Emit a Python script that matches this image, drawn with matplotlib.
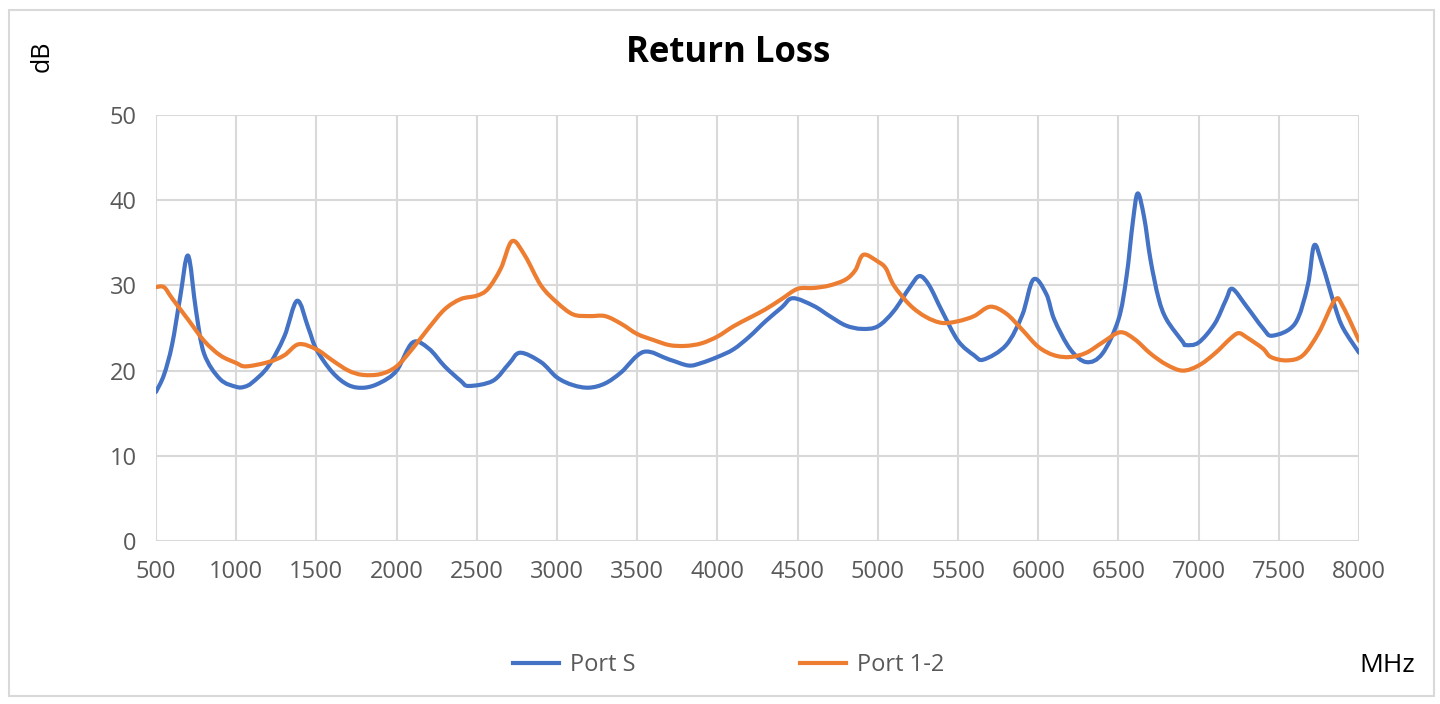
import matplotlib.pyplot as plt
from matplotlib.patches import Rectangle, PathPatch
from matplotlib.path import Path
from matplotlib.lines import Line2D

plt.rcParams['font.family'] = ['Open Sans', 'DejaVu Sans']

# frequency (MHz) and return loss (dB)
port_s_mhz = [500, 550, 600, 650, 700, 750, 800, 900, 1000, 1050, 1100, 1200, 1300, 1380,
              1450, 1500, 1600, 1700, 1800, 1900, 2000, 2100, 2200, 2300, 2400, 2450,
              2600, 2700, 2770, 2900, 3000, 3100, 3200, 3300, 3400, 3540, 3700, 3820,
              3900, 4000, 4100, 4200, 4300, 4400, 4470, 4600, 4700, 4800, 4900, 5000,
              5100, 5200, 5260, 5320, 5400, 5500, 5600, 5660, 5800, 5900, 5970, 6050,
              6100, 6200, 6300, 6400, 6500, 6550, 6590, 6620, 6660, 6700, 6750, 6800,
              6900, 6920, 7000, 7100, 7170, 7210, 7300, 7400, 7460, 7600, 7680, 7720,
              7770, 7850, 7900, 8000]
port_s_db = [17.5, 19.5, 23.0, 28.5, 33.5, 27.0, 22.0, 19.0, 18.1, 18.1, 18.6, 20.5, 24.0, 28.2,
             25.0, 22.5, 19.8, 18.3, 18.0, 18.6, 20.0, 23.3, 22.6, 20.5, 18.8, 18.2,
             18.8, 20.8, 22.1, 21.0, 19.2, 18.3, 18.0, 18.5, 19.8, 22.2, 21.3, 20.6,
             20.9, 21.6, 22.5, 24.0, 25.8, 27.4, 28.5, 27.6, 26.4, 25.3, 24.9, 25.2,
             27.0, 29.8, 31.1, 30.0, 27.0, 23.5, 21.8, 21.3, 23.0, 26.5, 30.7, 29.0,
             26.0, 22.5, 21.0, 22.0, 26.0, 31.0, 37.5, 40.8, 38.0, 33.0, 28.5, 26.0,
             23.4, 23.0, 23.3, 25.5, 28.3, 29.6, 27.5, 25.0, 24.1, 25.5, 30.0, 34.7,
             32.5, 27.5, 25.0, 22.1]

port12_mhz = [500, 550, 600, 700, 800, 900, 1000, 1060, 1200, 1300, 1390, 1500, 1600, 1700,
              1790, 1900, 2000, 2100, 2200, 2300, 2400, 2500, 2570, 2650, 2720, 2800,
              2900, 3000, 3100, 3200, 3300, 3400, 3500, 3600, 3700, 3800, 3900, 4000,
              4100, 4200, 4300, 4400, 4500, 4600, 4700, 4800, 4860, 4910, 5000, 5050,
              5100, 5200, 5300, 5400, 5500, 5600, 5700, 5800, 5900, 6000, 6100, 6200,
              6300, 6400, 6510, 6600, 6700, 6800, 6900, 7000, 7100, 7200, 7250, 7300,
              7400, 7450, 7550, 7650, 7750, 7850, 7900, 8000]
port12_db = [29.8, 29.8, 28.5, 26.0, 23.5, 21.8, 20.9, 20.5, 21.0, 21.8, 23.1, 22.5, 21.2, 20.0,
             19.5, 19.6, 20.5, 22.6, 25.0, 27.2, 28.4, 28.8, 29.6, 32.0, 35.2, 33.5,
             30.0, 28.0, 26.6, 26.4, 26.4, 25.5, 24.3, 23.6, 23.0, 22.9, 23.2, 24.0,
             25.2, 26.2, 27.2, 28.4, 29.6, 29.7, 30.0, 30.7, 31.8, 33.6, 32.8, 32.0,
             30.0, 27.7, 26.3, 25.6, 25.8, 26.4, 27.5, 26.7, 24.8, 22.8, 21.8, 21.6,
             22.1, 23.3, 24.5, 23.7, 22.0, 20.7, 20.0, 20.6, 22.0, 23.8, 24.4, 23.9,
             22.6, 21.6, 21.2, 21.8, 24.5, 28.3, 27.5, 23.5]

x_ticks = [500, 1000, 1500, 2000, 2500, 3000, 3500, 4000, 4500, 5000, 5500, 6000, 6500,
           7000, 7500, 8000]
y_ticks = [0, 10, 20, 30, 40, 50]

BLUE = '#4472C4'
ORANGE = '#ED7D31'


def smooth_path(xs, ys):
    # Excel-style smoothed line: Catmull-Rom segments drawn as cubic Beziers
    verts = [(xs[0], ys[0])]
    codes = [Path.MOVETO]
    n = len(xs)
    for i in range(n - 1):
        x0, y0 = (xs[i - 1], ys[i - 1]) if i > 0 else (xs[i], ys[i])
        x1, y1 = xs[i], ys[i]
        x2, y2 = xs[i + 1], ys[i + 1]
        x3, y3 = (xs[i + 2], ys[i + 2]) if i + 2 < n else (x2, y2)
        c1 = (x1 + (x2 - x0) / 6, y1 + (y2 - y0) / 6)
        c2 = (x2 - (x3 - x1) / 6, y2 - (y3 - y1) / 6)
        verts += [c1, c2, (x2, y2)]
        codes += [Path.CURVE4] * 3
    return Path(verts, codes)


fig = plt.figure(figsize=(14.4, 7.04), dpi=100)
fig.patches.append(Rectangle((0.006, 0.012), 0.99, 0.974, transform=fig.transFigure,
                             fill=False, edgecolor='#d9d9d9', linewidth=1.5))
ax = fig.add_axes([0.1083, 0.2315, 0.8355, 0.6051])

ax.add_patch(PathPatch(smooth_path(port_s_mhz, port_s_db), fill=False, edgecolor=BLUE,
                       lw=3, capstyle='round', joinstyle='round'))
ax.add_patch(PathPatch(smooth_path(port12_mhz, port12_db), fill=False, edgecolor=ORANGE,
                       lw=3, capstyle='round', joinstyle='round'))

ax.set_xlim(500, 8000)
ax.set_ylim(0, 50)
ax.set_xticks(x_ticks)
ax.set_yticks(y_ticks)
ax.grid(True, color='#d9d9d9', lw=1.5)
ax.set_axisbelow(True)
for s in ax.spines.values():
    s.set_visible(False)
ax.tick_params(length=0, labelsize=17, labelcolor='#595959', pad=14)

fig.text(0.506, 0.925, 'Return Loss', ha='center', va='center', fontsize=25, fontweight='bold')
fig.text(0.029, 0.92, 'dB', rotation=90, ha='center', va='center', fontsize=18)
fig.text(0.963, 0.055, 'MHz', ha='center', va='center', fontsize=19)

handles = [Line2D([], [], color=BLUE, lw=3), Line2D([], [], color=ORANGE, lw=3)]
fig.legend(handles, ['Port S', 'Port 1-2'], loc='center', bbox_to_anchor=(0.506, 0.055),
           ncol=2, frameon=False, fontsize=17, labelcolor='#595959', handlelength=1.95,
           columnspacing=7, handletextpad=0.45)

fig.savefig('out.png', dpi=100)
